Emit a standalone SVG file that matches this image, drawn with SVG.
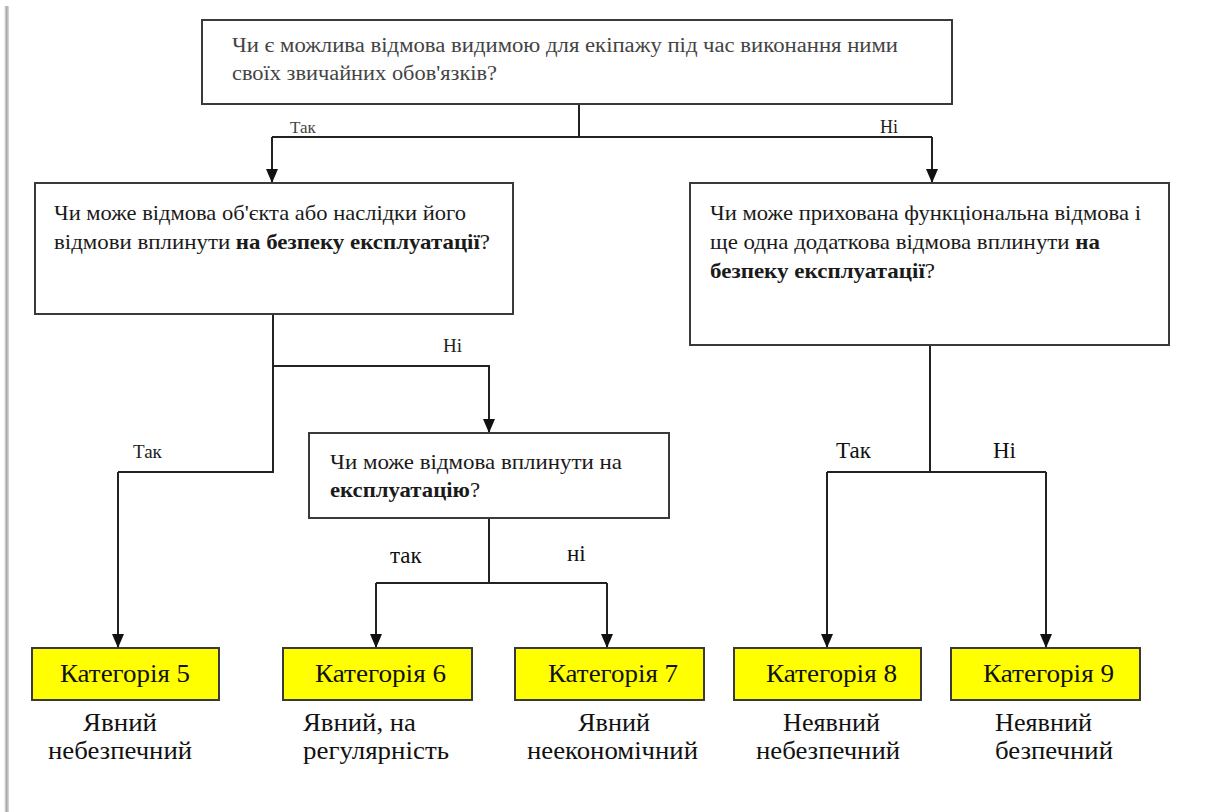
<svg xmlns="http://www.w3.org/2000/svg" width="1205" height="812" viewBox="0 0 1205 812">
<defs>
<linearGradient id="sh" x1="0" x2="1" y1="0" y2="0">
<stop offset="0" stop-color="#ffffff"/>
<stop offset="0.5" stop-color="#a8a8a8"/>
<stop offset="1" stop-color="#dcdcdc"/>
</linearGradient>
<marker id="ah" markerWidth="14" markerHeight="12" refX="14" refY="6" orient="auto" markerUnits="userSpaceOnUse" viewBox="0 0 14 12">
<path d="M0,0 L14,6 L0,12 Z" fill="#111"/>
</marker>
<style>
.box{fill:#fff;stroke:#3a3a3a;stroke-width:2}
.cat{fill:#ffff00;stroke:#3a3a3a;stroke-width:2}
.ln{fill:none;stroke:#222;stroke-width:2}
.arr{fill:none;stroke:#222;stroke-width:2}
.t{font-family:"Liberation Serif","Times New Roman",serif;fill:#1a1a1a}
.q{font-size:21px}
.tq{font-size:20px;fill:#444}
.lbl{font-size:17px;fill:#444}
.lbl2{font-size:23px;fill:#111}
.ct{font-size:25px;fill:#111}
.res{font-size:26px;fill:#111}
.b{font-weight:bold}
</style>
</defs>
<rect x="0" y="0" width="1205" height="812" fill="#fff"/>
<rect x="4" y="6" width="5" height="806" fill="url(#sh)"/>

<g id="connectors">
<path class="ln" d="M579,95 V137 M272,137 H932"/>
<path class="arr" d="M272,137 V183" marker-end="url(#ah)"/>
<path class="arr" d="M932,137 V183" marker-end="url(#ah)"/>
<path class="ln" d="M273,314 V472 H118"/>
<path class="arr" d="M273,366 H489 V433" marker-end="url(#ah)"/>
<path class="arr" d="M118,472 V648" marker-end="url(#ah)"/>
<path class="ln" d="M489,518 V583 M376,583 H607"/>
<path class="arr" d="M376,583 V648" marker-end="url(#ah)"/>
<path class="arr" d="M607,583 V648" marker-end="url(#ah)"/>
<path class="ln" d="M930,345 V472 M827,472 H1046"/>
<path class="arr" d="M827,472 V648" marker-end="url(#ah)"/>
<path class="arr" d="M1046,472 V648" marker-end="url(#ah)"/>
<text class="t lbl" x="290" y="133">Так</text>
<text class="t lbl" x="880" y="133" style="font-size:18px;fill:#222">Ні</text>
<text class="t lbl" x="443" y="352" style="font-size:19px;fill:#222">Ні</text>
<text class="t lbl" x="133" y="458" style="font-size:19px;fill:#222">Так</text>
<text class="t lbl2" x="390" y="563">так</text>
<text class="t lbl2" x="567" y="561">ні</text>
<text class="t lbl2" x="836" y="458">Так</text>
<text class="t lbl2" x="993" y="458">Ні</text>
</g>

<g id="n-top">
<rect class="box" x="202" y="20" width="750" height="84"/>
<text class="t tq" x="232" y="52" textLength="666" lengthAdjust="spacingAndGlyphs">Чи є можлива відмова видимою для екіпажу під час виконання ними</text>
<text class="t tq" x="232" y="80" textLength="265" lengthAdjust="spacingAndGlyphs">своїх звичайних обов'язків?</text>
</g>

<g id="n-left">
<rect class="box" x="35" y="183" width="478" height="131"/>
<text class="t q" x="54" y="220" textLength="412" lengthAdjust="spacingAndGlyphs">Чи може відмова об'єкта або наслідки його</text>
<text class="t q" x="54" y="249" textLength="436" lengthAdjust="spacingAndGlyphs">відмови вплинути <tspan class="b">на безпеку експлуатації</tspan>?</text>
</g>

<g id="n-right">
<rect class="box" x="690" y="183" width="479" height="162"/>
<text class="t q" x="710" y="220" textLength="431" lengthAdjust="spacingAndGlyphs">Чи може прихована функціональна відмова і</text>
<text class="t q" x="710" y="249" textLength="390" lengthAdjust="spacingAndGlyphs">ще одна додаткова відмова вплинути <tspan class="b">на</tspan></text>
<text class="t q" x="710" y="278" textLength="225" lengthAdjust="spacingAndGlyphs"><tspan class="b">безпеку експлуатації</tspan>?</text>
</g>

<g id="n-mid">
<rect class="box" x="309" y="433" width="360" height="85"/>
<text class="t q" x="330" y="469" textLength="292" lengthAdjust="spacingAndGlyphs">Чи може відмова вплинути на</text>
<text class="t q" x="330" y="497" textLength="150" lengthAdjust="spacingAndGlyphs"><tspan class="b">експлуатацію</tspan>?</text>
</g>

<g id="n-cat5">
<rect class="cat" x="32" y="648" width="187" height="52"/>
<text class="t ct" x="60" y="682" textLength="130" lengthAdjust="spacingAndGlyphs">Категорія 5</text>
<text class="t res" x="83" y="731" textLength="74" lengthAdjust="spacingAndGlyphs">Явний</text>
<text class="t res" x="48" y="759" textLength="144" lengthAdjust="spacingAndGlyphs">небезпечний</text>
</g>

<g id="n-cat6">
<rect class="cat" x="283" y="648" width="189" height="52"/>
<text class="t ct" x="315" y="682" textLength="131" lengthAdjust="spacingAndGlyphs">Категорія 6</text>
<text class="t res" x="303" y="731" textLength="113" lengthAdjust="spacingAndGlyphs">Явний, на</text>
<text class="t res" x="303" y="759" textLength="146" lengthAdjust="spacingAndGlyphs">регулярність</text>
</g>

<g id="n-cat7">
<rect class="cat" x="515" y="648" width="189" height="52"/>
<text class="t ct" x="548" y="682" textLength="130" lengthAdjust="spacingAndGlyphs">Категорія 7</text>
<text class="t res" x="578" y="731" textLength="72" lengthAdjust="spacingAndGlyphs">Явний</text>
<text class="t res" x="527" y="759" textLength="171" lengthAdjust="spacingAndGlyphs">неекономічний</text>
</g>

<g id="n-cat8">
<rect class="cat" x="734" y="648" width="187" height="52"/>
<text class="t ct" x="766" y="682" textLength="131" lengthAdjust="spacingAndGlyphs">Категорія 8</text>
<text class="t res" x="783" y="731" textLength="97" lengthAdjust="spacingAndGlyphs">Неявний</text>
<text class="t res" x="756" y="759" textLength="144" lengthAdjust="spacingAndGlyphs">небезпечний</text>
</g>

<g id="n-cat9">
<rect class="cat" x="951" y="648" width="189" height="52"/>
<text class="t ct" x="983" y="682" textLength="131" lengthAdjust="spacingAndGlyphs">Категорія 9</text>
<text class="t res" x="995" y="731" textLength="97" lengthAdjust="spacingAndGlyphs">Неявний</text>
<text class="t res" x="995" y="759" textLength="118" lengthAdjust="spacingAndGlyphs">безпечний</text>
</g>
</svg>
